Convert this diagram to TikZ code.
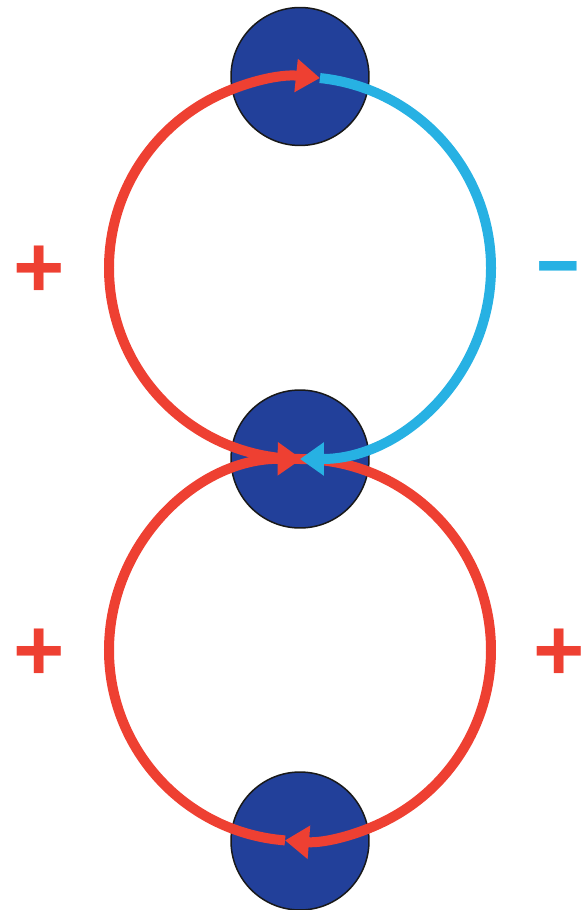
\documentclass[tikz,border=0pt]{standalone}
\usepackage{fontspec}
\setsansfont{Liberation Sans}
\usetikzlibrary{arrows.meta}
\definecolor{loopred}{RGB}{238,64,50}
\definecolor{loopcyan}{RGB}{39,177,227}
\definecolor{dotblue}{RGB}{34,64,154}

\begin{document}
\begin{tikzpicture}[
    x=0.02cm, y=0.02cm,
    dot/.style={circle, draw=black!90, fill=dotblue, line width=0.03cm,
                minimum size=2.76cm, inner sep=0pt},
    looparc/.style={line width=0.2cm, -{Triangle[length=0.48cm, width=0.64cm]}},
    sign/.style={font=\sffamily\bfseries\fontsize{50}{50}\selectfont, inner sep=0pt}
]
\useasboundingbox (-300,-451) rectangle (285,459);

\node[dot] (top) at (0,382.5) {};
\node[dot] (mid) at (0,0) {};
\node[dot] (bot) at (0,-382) {};

\draw[looparc, loopred] (mid.center) arc[start angle=270, end angle=84, radius=191] coordinate (turn);
\draw[looparc, loopred] (mid.center) arc[start angle=90, end angle=-94.5, radius=191] coordinate (low);
\draw[looparc, loopred] (low) arc[start angle=-94.5, end angle=-270.5, radius=191];
\draw[looparc, loopcyan] (turn) arc[start angle=84, end angle=-90, radius=191];

\node[sign, text=loopred] (plusa) at (-261,187) {+};
\node[sign, text=loopcyan, xscale=0.85] (minus) at (258,181) {−};
\node[sign, text=loopred] (plusb) at (-261,-196) {+};
\node[sign, text=loopred] (plusc) at (259.5,-196) {+};

\end{tikzpicture}
\end{document}
